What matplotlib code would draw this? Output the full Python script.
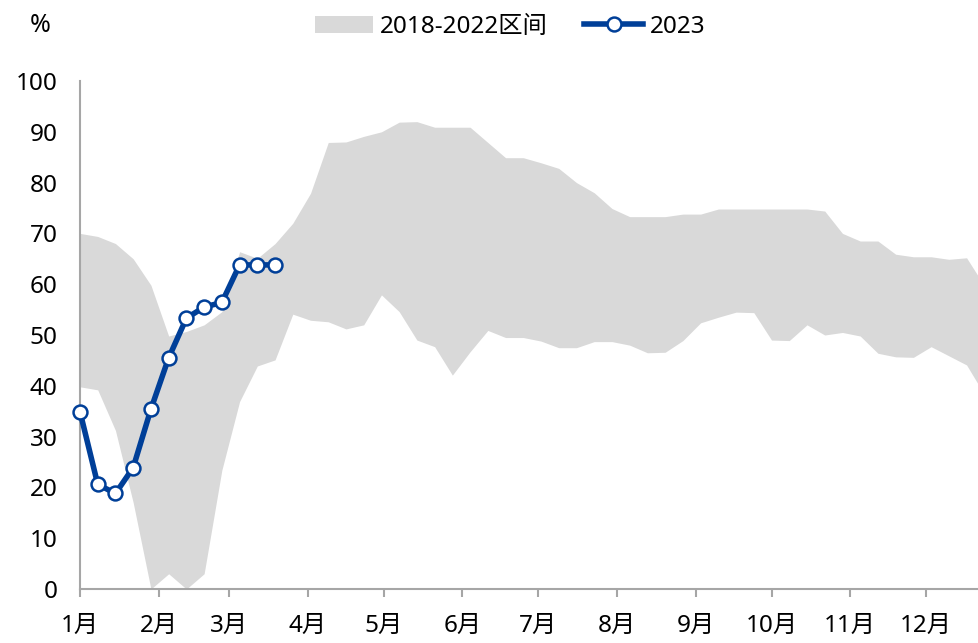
import numpy as np
import matplotlib
matplotlib.use("Agg")
import matplotlib.pyplot as plt

plt.rcParams['font.family'] = ['Noto Sans', 'Noto Sans CJK SC', 'DejaVu Sans']

# weekly data, x in days from Jan 1
band_high = [70.0, 69.4, 68.0, 65.0, 59.8, 49.8, 50.7, 52.0, 54.6, 66.4,
             65.1, 68.0, 72.0, 77.9, 87.9, 88.0, 89.1, 90.0, 91.9, 92.0,
             90.9, 90.9, 90.9, 87.9, 84.9, 84.9, 83.9, 82.8, 80.0, 78.0,
             74.9, 73.3, 73.3, 73.3, 73.8, 73.8, 74.8, 74.8, 74.8, 74.8,
             74.8, 74.8, 74.4, 70.0, 68.5, 68.5, 65.9, 65.4, 65.4, 64.9,
             65.2, 59.7]
band_low = [39.8, 39.2, 31.2, 17.0, 0.0, 3.0, 0.0, 3.0, 23.4, 36.9,
            43.9, 45.1, 54.1, 52.9, 52.6, 51.2, 52.0, 57.9, 54.6, 49.0,
            47.7, 42.1, 46.7, 50.9, 49.5, 49.5, 48.8, 47.5, 47.5, 48.7,
            48.7, 48.0, 46.5, 46.6, 48.9, 52.4, 53.5, 54.5, 54.4, 49.0,
            48.9, 52.0, 50.0, 50.5, 49.8, 46.4, 45.7, 45.6, 47.7, 45.9,
            44.1, 38.3]
y2023 = [34.9, 20.6, 18.8, 23.9, 35.4, 45.5, 53.3, 55.5, 56.4, 63.8, 63.8, 63.8]

month_days = [0, 31, 59, 90, 120, 151, 181, 212, 243, 273, 304, 334]
month_labels = ['1月', '2月', '3月', '4月', '5月', '6月', '7月', '8月',
                '9月', '10月', '11月', '12月']

days = np.arange(len(band_high)) * 7
days23 = np.arange(len(y2023)) * 7

fig = plt.figure(figsize=(9.79, 6.43), dpi=100)
ax = fig.add_axes([80/979, 54/643, 899/979, 508/643])

ax.fill_between(days, band_low, band_high, color='#d9d9d9', lw=0,
                label='2018-2022区间')
ax.plot(days23, y2023, color='#003f98', lw=4, marker='o', markersize=10,
        markerfacecolor='white', markeredgecolor='#003f98', markeredgewidth=1.8,
        label='2023', zorder=3, clip_on=False)

ax.set_xlim(0, 354.9)
ax.set_ylim(0, 100)
ax.set_yticks(range(0, 101, 10))
ax.set_xticks(month_days)
ax.set_xticklabels(month_labels)

for s in ['top', 'right']:
    ax.spines[s].set_visible(False)
for s in ['left', 'bottom']:
    ax.spines[s].set_color('#a6a6a6')
    ax.spines[s].set_linewidth(1.5)

ax.tick_params(axis='y', length=0, pad=16, labelsize=17.5)
ax.tick_params(axis='x', length=6, width=1.5, color='#a6a6a6', pad=12,
               labelsize=17.5, direction='out')

fig.legend(loc='center', bbox_to_anchor=(0.521, 0.958), ncol=2, frameon=False,
           fontsize=17.5, handlelength=2.4, handletextpad=0.3, columnspacing=1.5)
fig.text(40/979, 0.96, '%', ha='center', va='center', fontsize=18)

fig.savefig('out.png', dpi=100)
